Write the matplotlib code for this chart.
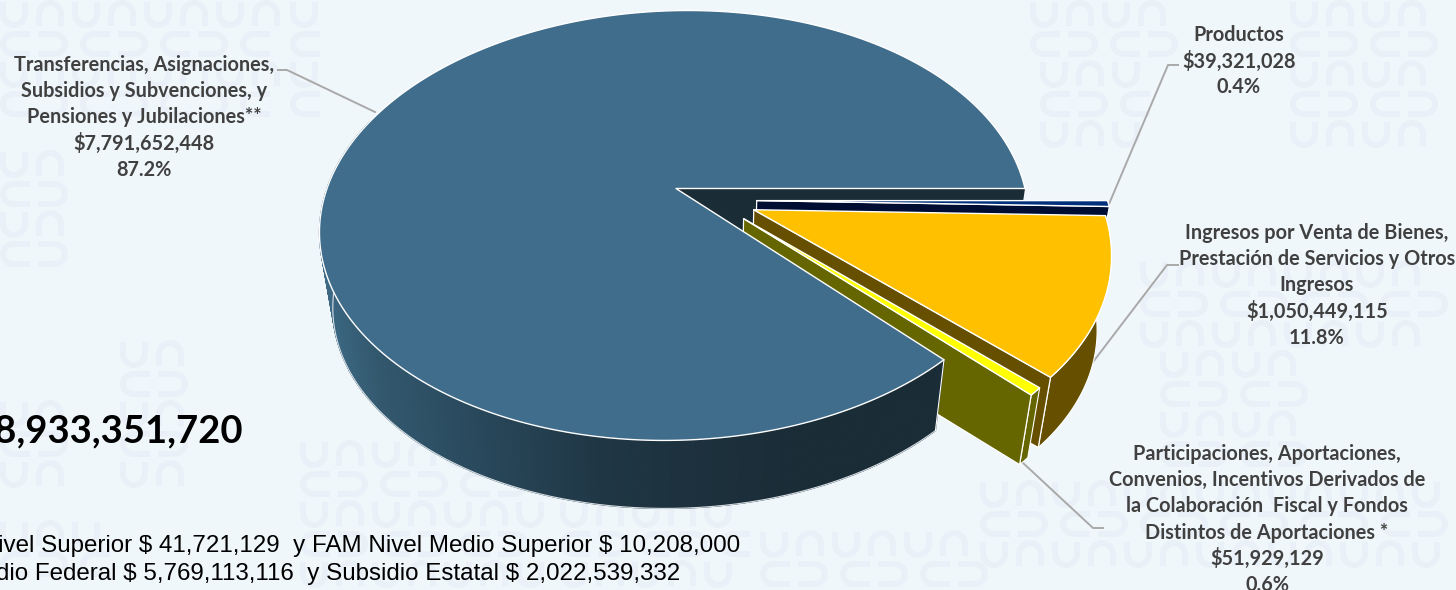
import numpy as np
import matplotlib
matplotlib.use("Agg")
import matplotlib.pyplot as plt
from matplotlib.patches import Polygon

# ---- data ----
labels = ["Productos",
          "Ingresos por Venta de Bienes,\nPrestación de Servicios y Otros\nIngresos",
          "Participaciones, Aportaciones,\nConvenios, Incentivos Derivados de\nla Colaboración  Fiscal y Fondos\nDistintos de Aportaciones *",
          "Transferencias, Asignaciones,\nSubsidios y Subvenciones, y\nPensiones y Jubilaciones**"]
values = [39321028, 1050449115, 51929129, 7791652448]
notes = ["* FAM Nivel Superior $ 41,721,129  y FAM Nivel Medio Superior $ 10,208,000",
         "** Subsidio Federal $ 5,769,113,116  y Subsidio Estatal $ 2,022,539,332"]

# ---- style / geometry ----
W, H_ = 1456, 590
BG = "#f0f7fb"
MARK = "#e9f0f7"
CX, CY, A, B, K = 676, 188.5, 349, 208.6, 0.172
XV, YV, S = 700, 2383, 0.965
explode = [(0.229, 0.0575, 0.995), (0.219, 0.1, 0.985), (0.189, 0.141, 0.98), (0, 0, 1.0)]
shear = [0, 0, 0, 12]
top_cols = ["#00307c", "#ffc000", "#ffff00", "#3f6d8b"]
side_cols = ["#000d33", "#665000", "#666600", "#1a2c36"]
GREY = "#a9a9a9"
TXT = "#404040"

fig = plt.figure(figsize=(W / 100, H_ / 100), dpi=100, facecolor=BG)
ax = fig.add_axes([0, 0, 1, 1])
ax.set_xlim(0, W)
ax.set_ylim(H_, 0)
ax.axis("off")


def proj(u, v, c=0):
    d = 1 - K * v
    return CX + A * u / d - c * v, CY + B * v / d


def low(x, y):
    return XV + S * (x - XV), YV + S * (y - YV)


def rim(i, t0, t1, n=120):
    du, dv, r = explode[i]
    t = np.radians(np.linspace(t0, t1, n))
    return proj(du + r * np.cos(t), dv + r * np.sin(t), shear[i])


def poly(xs, ys, **kw):
    ax.add_patch(Polygon(np.column_stack([xs, ys]), closed=True, **kw))


# watermark blocks
def watermark(x0, y0, x1, y1):
    t = np.linspace(0, np.pi, 30)
    row = 0
    y = y0 + 14
    while y < y1 - 10:
        x = x0 + 14
        col = 0
        while x < x1 - 14:
            sgn = 1 if col % 2 == 0 else -1
            if row % 2 == 0:
                xs = np.r_[x - 11, x - 11 + 11 * (1 - np.cos(t)), x + 11]
                ys = np.r_[y - sgn * 12, y + sgn * 11 * np.sin(t), y - sgn * 12]
                x += 36
            else:
                xs = np.r_[x + sgn * 16, x - sgn * 11 * np.sin(t), x + sgn * 16]
                ys = np.r_[y - 10, y - 10 + 10 * (1 - np.cos(t)), y + 10]
                x += 40
            ax.plot(xs, ys, color=MARK, lw=4.2, zorder=0, solid_capstyle="butt")
            col += 1
        y += 30
        row += 1


for block in [(0, 0, 290, 140), (0, 150, 95, 290), (120, 340, 210, 500), (0, 400, 70, 510),
              (290, 0, 330, 130), (300, 440, 560, 590), (560, 500, 760, 590), (1030, 0, 1190, 60),
              (1040, 60, 1150, 160), (1140, 260, 1456, 350), (1160, 350, 1310, 470),
              (980, 480, 1456, 590), (1290, 0, 1456, 150), (760, 530, 990, 590), (0, 520, 130, 590)]:
    watermark(*block)

fr = np.array(values, dtype=float) / sum(values)
cum = np.r_[0, np.cumsum(fr)] * 360
EDGE = dict(edgecolor="white", linewidth=1.0, joinstyle="round")

# main slice start cut face
m = 3
x0, y0 = proj(0, 0)
x1, y1 = proj(1, 0)
lx0, ly0 = low(x0, y0)
lx1, ly1 = low(x1, y1)
poly([x0, x1, lx1, lx0], [y0, y1, ly1, ly0], facecolor=side_cols[m], edgecolor="none", zorder=2)

# exploded slices, back to front
for i in range(3):
    t0, t1 = cum[i], cum[i + 1]
    du, dv, r = explode[i]
    ax_, ay_ = proj(du, dv)
    rx, ry = rim(i, t0, t1)
    lrx, lry = low(rx, ry)
    lax, lay = low(ax_, ay_)
    z = 3 + i
    poly(np.r_[rx, lrx[::-1]], np.r_[ry, lry[::-1]], facecolor=side_cols[i], edgecolor="white",
         linewidth=0.8, zorder=z)
    poly([ax_, rx[-1], lrx[-1], lax], [ay_, ry[-1], lry[-1], lay], facecolor=side_cols[i],
         edgecolor="white", linewidth=0.9, zorder=z)
    poly(np.r_[ax_, rx], np.r_[ay_, ry], facecolor=top_cols[i], zorder=z, **EDGE)

# main slice wall with a left-to-right shade
stops_x = [320, 370, 450, 600, 800, 950]
stops_c = np.array([[0x3c, 0x68, 0x84], [0x33, 0x59, 0x6f], [0x2b, 0x4c, 0x60],
                    [0x1f, 0x36, 0x44], [0x1a, 0x2c, 0x36], [0x1a, 0x2c, 0x36]], dtype=float)
rx, ry = rim(m, 360 * fr[:3].sum(), 200, 260)
lrx, lry = low(rx, ry)
for j in range(len(rx) - 1):
    xm = (rx[j] + rx[j + 1]) / 2
    c = [np.interp(xm, stops_x, stops_c[:, q]) / 255 for q in range(3)]
    poly([rx[j], rx[j + 1], lrx[j + 1], lrx[j]], [ry[j], ry[j + 1], lry[j + 1], lry[j]],
         facecolor=c, edgecolor=c, linewidth=0.9, zorder=7)
ax.plot(lrx, lry, color="#d8dfe4", lw=0.8, zorder=7)
ax.plot([rx[0], lrx[0]], [ry[0], lry[0]], color="white", lw=0.8, zorder=7)

# main slice top
rx, ry = rim(m, 360 * fr[:3].sum(), 360, 400)
poly(np.r_[proj(0, 0)[0], rx], np.r_[proj(0, 0)[1], ry], facecolor=top_cols[m], zorder=8, **EDGE)

# leader lines
leaders = [([278, 287, 375], [70, 70, 112]),
           ([1178, 1168, 1109], [65, 65, 204]),
           ([1178, 1167, 1093], [265, 265, 362]),
           ([1103, 1093, 1022], [528, 528, 462])]
for xs, ys in leaders:
    ax.plot(xs, ys, color=GREY, lw=1.4, zorder=1, solid_joinstyle="round")

# data labels: one text per line at an even spacing
label_pos = [(1239, 33), (1317, 231), (1267, 452), (144, 63)]
STEP = 26.2
for lab, val, f, (x, y) in zip(labels, values, fr, label_pos):
    lines = lab.split("\n") + [f"${val:,}", f"{f * 100:.1f}%"]
    for n, line in enumerate(lines):
        ax.text(x, y + n * STEP, line, ha="center", va="center_baseline", family="Lato", parse_math=False,
                fontweight="bold", fontsize=14.3, color=TXT, zorder=10)

# total and notes
ax.text(243, 430, f"${sum(values):,}", ha="right", va="center", family="Lato", fontweight="bold",
        fontsize=27.5, color="black", zorder=10, parse_math=False)
ax.text(740, 546, notes[0], ha="right", va="center", family="Liberation Sans", fontsize=17.35,
        color="black", zorder=10, parse_math=False)
ax.text(680, 574, notes[1], ha="right", va="center", family="Liberation Sans", fontsize=17.35,
        color="black", zorder=10, parse_math=False)

fig.savefig("out.png", dpi=100, facecolor=BG)
